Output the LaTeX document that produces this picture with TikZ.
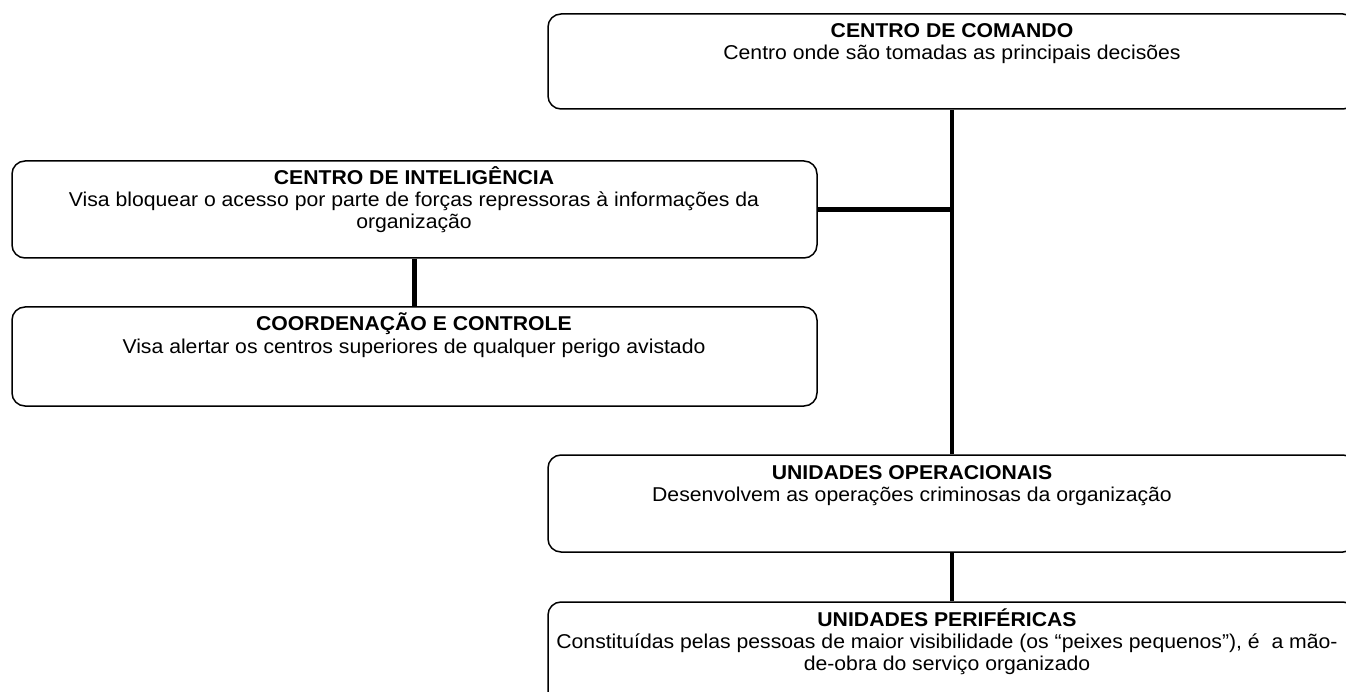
\documentclass[tikz,border=0pt]{standalone}
\usepackage{fontspec}
\setmainfont[FakeStretch=1.06]{Liberation Sans}
\begin{document}
\begin{tikzpicture}[x=1pt,y=-1pt,
  box/.style={draw, line width=1.5pt, rounded corners=13pt, inner sep=0pt},
  link/.style={line width=4.5pt},
  ttl/.style={anchor=base, inner sep=0pt, font=\fontsize{20}{22}\selectfont\bfseries},
  txt/.style={anchor=base, inner sep=0pt, font=\fontsize{20}{22}\selectfont}]
\useasboundingbox (0,0) rectangle (1346,692);
\fill[white] (0,0) rectangle (1346,692);
% boxes
\node[box, minimum width=808pt, minimum height=95pt] (cmd) at (952,61.5) {};
\node[box, minimum width=805pt, minimum height=97pt] (intel) at (414.5,209.5) {};
\node[box, minimum width=805pt, minimum height=99pt] (coord) at (414.5,356.5) {};
\node[box, minimum width=808pt, minimum height=97pt] (oper) at (952,503.5) {};
\node[box, minimum width=808pt, minimum height=110pt] (peri) at (952,657) {};
% texts
\node[ttl] (cmdT) at (952,38) {CENTRO DE COMANDO};
\node[txt] (cmdL) at (952,60) {Centro onde são tomadas as principais decisões};
\node[ttl] (intT) at (414,185) {CENTRO DE INTELIGÊNCIA};
\node[txt] (intL1) at (414,207) {Visa bloquear o acesso por parte de forças repressoras à informações da};
\node[txt] (intL2) at (414,229) {organização};
\node[ttl] (cooT) at (414,331) {COORDENAÇÃO E CONTROLE};
\node[txt] (cooL) at (414,353) {Visa alertar os centros superiores de qualquer perigo avistado};
\node[ttl] (opT) at (912,479) {UNIDADES OPERACIONAIS};
\node[txt] (opL) at (912,501) {Desenvolvem as operações criminosas da organização};
\node[ttl] (peT) at (947,626) {UNIDADES PERIFÉRICAS};
\node[txt] (peL1) at (947,648) {Constituídas pelas pessoas de maior visibilidade (os “peixes pequenos”), é\ \ a mão-};
\node[txt] (peL2) at (947,670) {de-obra do serviço organizado};
% connectors
\draw[link] (cmd.south) -- (oper.north);
\draw[link] (intel.east) -- (intel.east -| cmd.south);
\draw[link] (intel.south) -- (coord.north);
\draw[link] (oper.south) -- (peri.north);
\end{tikzpicture}
\end{document}
